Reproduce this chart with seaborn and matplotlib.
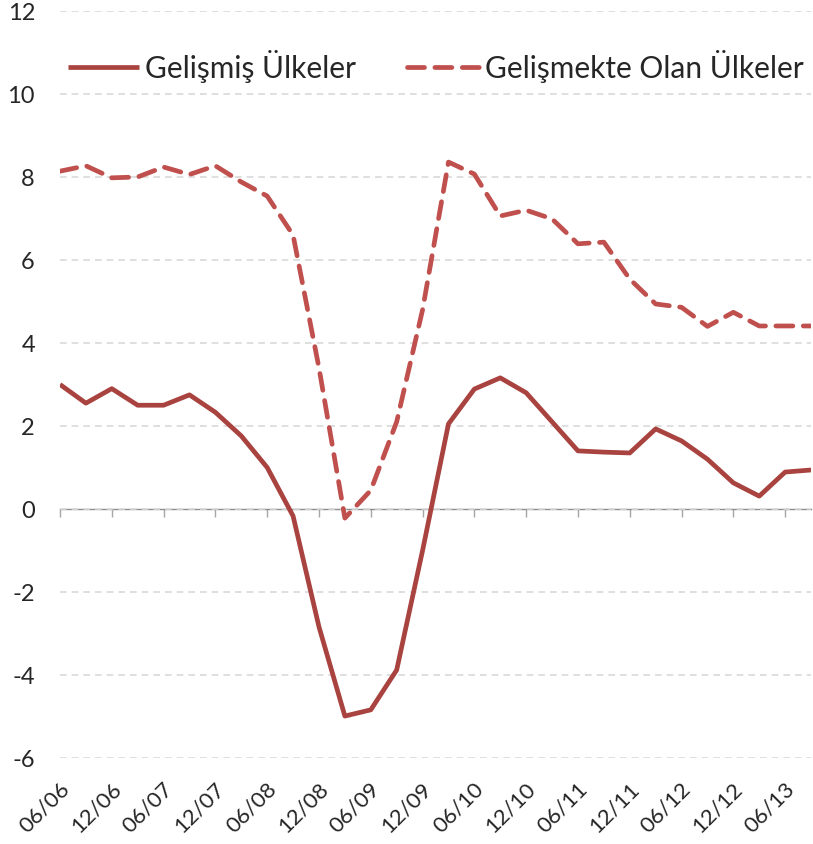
import numpy as np
import pandas as pd
import matplotlib
matplotlib.use("Agg")
import matplotlib.pyplot as plt
import matplotlib.transforms as mtransforms
import seaborn as sns

# ------------------------------------------------------------
# Data (quarterly, 06/06 - 09/13)
# ------------------------------------------------------------

quarters = [
    "06/06", "09/06", "12/06", "03/07", "06/07", "09/07", "12/07", "03/08",
    "06/08", "09/08", "12/08", "03/09", "06/09", "09/09", "12/09", "03/10",
    "06/10", "09/10", "12/10", "03/11", "06/11", "09/11", "12/11", "03/12",
    "06/12", "09/12", "12/12", "03/13", "06/13", "09/13",
]

gelismis = [3.0, 2.55, 2.9, 2.5, 2.5, 2.75, 2.33, 1.76, 1.0, -0.17,
            -2.84, -4.99, -4.84, -3.88, -1.0, 2.05, 2.89, 3.16, 2.80, 2.1,
            1.40, 1.37, 1.35, 1.93, 1.64, 1.2, 0.63, 0.31, 0.89, 0.94]

gelismekte = [8.14, 8.27, 7.98, 8.0, 8.24, 8.06, 8.27, 7.88, 7.54, 6.6,
              3.4, -0.22, 0.45, 2.1, 4.8, 8.36, 8.07, 7.06, 7.2, 6.99,
              6.39, 6.43, 5.54, 4.94, 4.86, 4.4, 4.74, 4.41, 4.41, 4.41]

series_labels = ["Gelişmiş Ülkeler", "Gelişmekte Olan Ülkeler"]
y_ticks = [-6, -4, -2, 0, 2, 4, 6, 8, 10, 12]

SOLID_COLOR = "#A9433F"
DASH_COLOR = "#C0504D"

# ------------------------------------------------------------
# Plot
# ------------------------------------------------------------

sns.set_style("white")
plt.rcParams["font.family"] = ["Lato", "DejaVu Sans"]

x = np.arange(len(quarters))
df = pd.DataFrame({"idx": x, "gelismis": gelismis, "gelismekte": gelismekte})

fig = plt.figure(figsize=(8.13, 8.45), dpi=100)
ax = fig.add_axes([0.0738, 0.1018, 0.9238, 0.884])

sns.lineplot(data=df, x="idx", y="gelismis", ax=ax, color=SOLID_COLOR,
             linewidth=3.4, label=series_labels[0], solid_capstyle="butt")
sns.lineplot(data=df, x="idx", y="gelismekte", ax=ax, color=DASH_COLOR,
             linewidth=3.4, linestyle=(0, (3.6, 2.2)), dash_capstyle="round",
             label=series_labels[1])

ax.set_xlim(0, len(quarters) - 1)
ax.set_ylim(-6, 12)
ax.set_yticks(y_ticks)
ax.set_yticklabels([str(v) for v in y_ticks])
ax.yaxis.grid(True, color="#D9D9D9", linestyle=(0, (4, 3)), linewidth=1.2)
ax.set_axisbelow(True)

tick_idx = x[::2]
ax.set_xticks(tick_idx)
ax.set_xticklabels([quarters[i] for i in tick_idx], rotation=45,
                   ha="right", va="center", rotation_mode="anchor")
ax.tick_params(axis="x", length=0, pad=21, labelsize=16)
ax.tick_params(axis="y", length=0, pad=18, labelsize=17)
ax.set_xlabel("")
ax.set_ylabel("")
for s in ax.spines.values():
    s.set_visible(False)

# nudge rotated labels to match the reference placement
shift = mtransforms.ScaledTranslation(0.06, 0.02, fig.dpi_scale_trans)
for lbl in ax.get_xticklabels():
    lbl.set_transform(lbl.get_transform() + shift)

# zero line with tick marks
zero_ax = ax.secondary_xaxis(6 / 18)
zero_ax.set_xticks(tick_idx)
zero_ax.set_xticklabels([])
zero_ax.tick_params(axis="x", direction="out", length=6, width=1.0,
                    color="#A6A6A6")
zero_ax.spines["bottom"].set_color("#8C8C8C")
zero_ax.spines["bottom"].set_linewidth(1.0)
for name in ["top", "left", "right"]:
    zero_ax.spines[name].set_visible(False)

ax.legend(loc="center", bbox_to_anchor=(0.5, 0.927), ncol=2, frameon=False,
          fontsize=21.5, handlelength=2.4, handletextpad=0.2,
          columnspacing=1.7, borderpad=0)

fig.savefig("out.png", dpi=100)
